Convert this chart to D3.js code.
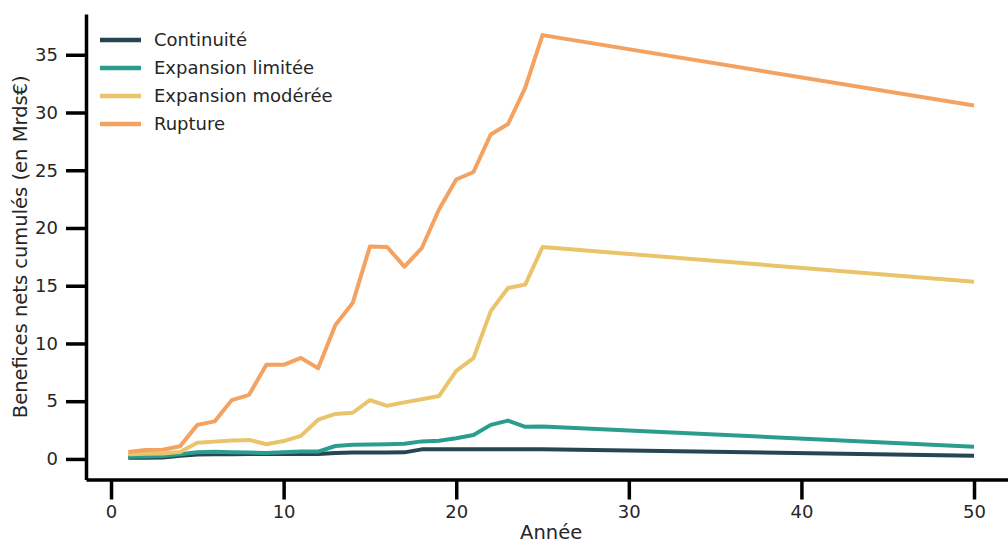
<!DOCTYPE html>
<html>
<head>
<meta charset="utf-8">
<script src="https://cdn.jsdelivr.net/npm/d3@7"></script>
<style>
  html, body { margin: 0; padding: 0; background: #fff; }
  svg { display: block; font-family: "DejaVu Sans", sans-serif; }
</style>
</head>
<body>
<svg id="chart" width="1008" height="544"></svg>
<script>
// ---- Data ----
const years = [1,2,3,4,5,6,7,8,9,10,11,12,13,14,15,16,17,18,19,20,21,22,23,24,25,50];

const continuite = [0.10,0.10,0.12,0.28,0.38,0.40,0.40,0.42,0.42,0.42,0.42,0.42,0.52,0.55,0.55,0.56,0.57,0.83,0.84,0.84,0.84,0.84,0.84,0.84,0.84,0.28];
const expansionLimitee = [0.20,0.22,0.25,0.40,0.58,0.62,0.58,0.55,0.52,0.58,0.64,0.64,1.12,1.22,1.25,1.27,1.32,1.52,1.58,1.80,2.07,2.95,3.32,2.78,2.82,1.05];
const expansionModeree = [0.40,0.45,0.48,0.60,1.40,1.50,1.60,1.65,1.27,1.55,2.00,3.40,3.90,4.00,5.10,4.60,4.90,5.17,5.45,7.63,8.73,12.80,14.80,15.10,18.35,15.35];
const rupture = [0.60,0.78,0.80,1.10,2.95,3.25,5.10,5.55,8.15,8.15,8.75,7.85,11.60,13.50,18.40,18.35,16.65,18.25,21.60,24.20,24.85,28.10,29.00,32.15,36.70,30.60];

const seriesNames = ["Continuité","Expansion limitée","Expansion modérée","Rupture"];
const seriesValues = [continuite, expansionLimitee, expansionModeree, rupture];
const seriesColors = ["#264653","#2a9d8f","#e9c46a","#f4a261"];

const xTicks = [0,10,20,30,40,50];
const yTicks = [0,5,10,15,20,25,30,35];

const xLabel = "Année";
const yLabel = "Benefices nets cumulés (en Mrds€)";

// ---- Layout ----
const svg = d3.select("#chart");
const mLeft = 86, mTop = 14, plotW = 930.3, plotH = 465.5;

const x = d3.scaleLinear().domain([-1.45, 52.45]).range([mLeft, mLeft + plotW]);
const y = d3.scaleLinear().domain([-1.78, 38.53]).range([mTop + plotH, mTop]);

const textColor = "#262626";

// Lines
const line = d3.line().x(d => x(d[0])).y(d => y(d[1]));
seriesValues.forEach((vals, i) => {
  svg.append("path")
    .datum(years.map((yr, j) => [yr, vals[j]]))
    .attr("fill", "none")
    .attr("stroke", seriesColors[i])
    .attr("stroke-width", 4)
    .attr("stroke-linejoin", "round")
    .attr("stroke-linecap", "butt")
    .attr("d", line);
});

// Axes
const xAxis = svg.append("g")
  .attr("transform", `translate(0,${mTop + plotH})`)
  .call(d3.axisBottom(x).tickValues(xTicks).tickFormat(d3.format("d")).tickSize(20).tickSizeOuter(0).tickPadding(6));
const yAxis = svg.append("g")
  .attr("transform", `translate(${mLeft},0)`)
  .call(d3.axisLeft(y).tickValues(yTicks).tickFormat(d3.format("d")).tickSize(20).tickSizeOuter(0).tickPadding(8));

[xAxis, yAxis].forEach(g => {
  g.select(".domain").attr("stroke", "#000").attr("stroke-width", 3.5);
  g.selectAll(".tick line").attr("stroke", "#000").attr("stroke-width", 3.5);
  g.selectAll(".tick text").attr("fill", textColor).style("font-size", "18px").style("font-family", "DejaVu Sans");
});

// Axis labels
svg.append("text")
  .attr("x", x(-1.45 + 53.9 / 2))
  .attr("y", 538.5)
  .attr("text-anchor", "middle")
  .attr("fill", textColor)
  .style("font-size", "19.5px")
  .text(xLabel);

svg.append("text")
  .attr("transform", `translate(27,${mTop + plotH / 2}) rotate(-90)`)
  .attr("text-anchor", "middle")
  .attr("fill", textColor)
  .style("font-size", "19.5px")
  .text(yLabel);

// Legend
const legend = svg.append("g");
seriesNames.forEach((name, i) => {
  const ly = 40 + i * 28;
  legend.append("line")
    .attr("x1", 100).attr("x2", 141)
    .attr("y1", ly).attr("y2", ly)
    .attr("stroke", seriesColors[i])
    .attr("stroke-width", 4.5);
  legend.append("text")
    .attr("x", 154).attr("y", ly)
    .attr("dy", "0.36em")
    .attr("fill", textColor)
    .style("font-size", "18px")
    .text(name);
});
</script>
</body>
</html>
